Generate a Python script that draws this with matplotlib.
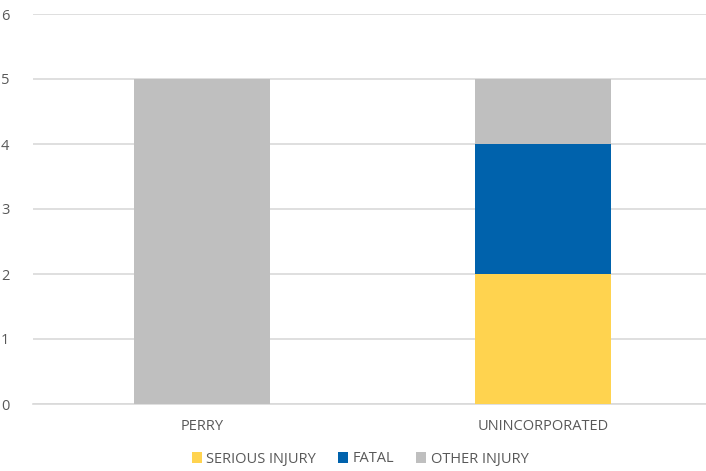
import matplotlib.pyplot as plt
import numpy as np

# injury counts per area
categories = ["PERRY", "UNINCORPORATED"]
serious_injury = [0, 2]
fatal = [0, 2]
other_injury = [5, 1]

series_names = ["SERIOUS INJURY", "FATAL", "OTHER INJURY"]
colors = ["#FFD34F", "#0062AC", "#BFBFBF"]

plt.rcParams["font.family"] = ["Open Sans", "DejaVu Sans"]

fig = plt.figure(figsize=(7.06, 4.71), dpi=100)
ax = fig.add_axes([33 / 706, 67 / 471, 673 / 706, 390 / 471])

x = np.arange(len(categories))
bottom = np.zeros(len(categories))
for vals, name, col in zip([serious_injury, fatal, other_injury], series_names, colors):
    ax.bar(x, vals, width=0.4, bottom=bottom, color=col, label=name, zorder=3)
    bottom += np.array(vals)

ax.set_ylim(0, 6)
ax.set_xlim(-0.496, 1.478)
ax.set_yticks(range(0, 7))
ax.set_xticks(x)
ax.set_xticklabels(categories)
ax.yaxis.grid(True, color="#D9D9D9", linewidth=1.2, zorder=0)
ax.set_axisbelow(True)
for s in ["top", "right", "left"]:
    ax.spines[s].set_visible(False)
ax.spines["bottom"].set_color("#D9D9D9")
ax.spines["bottom"].set_linewidth(1.2)
ax.tick_params(axis="both", length=0, labelsize=10.5, labelcolor="#595959")
ax.tick_params(axis="y", pad=17)
ax.tick_params(axis="x", pad=11)

leg = fig.legend(loc="center", bbox_to_anchor=(360 / 706, 1 - 459 / 471), ncol=3,
                 frameon=False, fontsize=10.5, handlelength=0.7, handleheight=0.7,
                 handletextpad=0.3, columnspacing=1.5, borderpad=0)
for t in leg.get_texts():
    t.set_color("#595959")

fig.savefig("out.png", dpi=100)
